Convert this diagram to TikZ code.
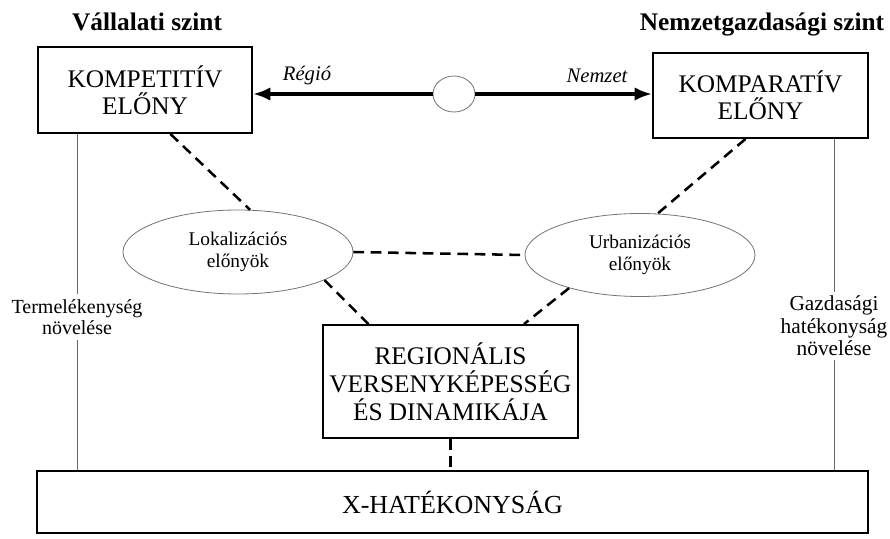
\documentclass[tikz,border=0pt]{standalone}
\usepackage{fontspec}
\setmainfont{Liberation Serif}
\usetikzlibrary{shapes.geometric,arrows.meta}
\begin{document}
\begin{tikzpicture}[x=0.75pt,y=-0.75pt,
  boxnode/.style={draw=black,line width=1.4pt,rectangle,align=center,inner sep=0pt},
  ellnode/.style={draw=black!55,line width=0.6pt,ellipse,inner sep=0pt,align=center,font=\fontsize{14.5}{16.5}\selectfont},
  dashlink/.style={line width=1.9pt,dash pattern=on 8pt off 5pt},
  thinlink/.style={draw=black!60,line width=0.5pt},
  bigarrow/.style={line width=2.6pt,-{Latex[length=13pt,width=10pt]}},
  titlenode/.style={font=\fontsize{19}{22}\selectfont\bfseries,inner sep=0pt},
  arrowlabel/.style={font=\fontsize{15.5}{17}\selectfont\itshape,inner sep=0pt},
  sidelabel/.style={align=center,inner xsep=2pt}]
\useasboundingbox (0,0) rectangle (890,539);

% titles
\node[titlenode] (t1) at (147,22) {Vállalati szint};
\node[titlenode] (t2) at (762,24) {Nemzetgazdasági szint};

% top boxes
\node[boxnode,minimum width=160.5pt,minimum height=64.5pt,font=\fontsize{19}{20.5}\selectfont] (boxL) at (145,90) {KOMPETITÍV\\ELŐNY};
\node[boxnode,minimum width=161.25pt,minimum height=63.75pt,font=\fontsize{19}{20.5}\selectfont] (boxR) at (760.5,95.5) {KOMPARATÍV\\ELŐNY};

% small circle
\node[ellnode,minimum width=31.5pt,minimum height=27pt] (circ) at (454,94) {};

% arrows
\draw[bigarrow] (circ.west) -- (circ.west -| boxL.east);
\draw[bigarrow] (circ.east) -- (circ.east -| boxR.west);
\node[arrowlabel] (lregio) at (307,76) {Régió};
\node[arrowlabel] (lnemzet) at (597,76) {Nemzet};

% ellipses
\node[ellnode,minimum width=172.5pt,minimum height=63pt] (eL) at (238,252) {Lokalizációs\\előnyök};
\node[ellnode,minimum width=172.5pt,minimum height=62.25pt] (eR) at (640,255) {Urbanizációs\\előnyök};

% central box
\node[boxnode,minimum width=191.25pt,minimum height=84.75pt,font=\fontsize{19}{21}\selectfont] (cbox) at (450.5,381.5) {REGIONÁLIS\\VERSENYKÉPESSÉG\\ÉS DINAMIKÁJA};

% bottom box
\node[boxnode,minimum width=623.25pt,minimum height=46.5pt,font=\fontsize{19.5}{20}\selectfont] (xbox) at (452.5,502) {X-HATÉKONYSÁG};

% side labels
\node[sidelabel,inner ysep=4pt,font=\fontsize{15}{16}\selectfont] (labL) at (77,317) {Termelékenység\\növelése};
\node[sidelabel,inner ysep=3pt,font=\fontsize{16}{17}\selectfont] (labR) at (834,326) {Gazdasági\\hatékonyság\\növelése};

% dashed connectors
\draw[dashlink] (boxL.-60) -- (eL.74);
\draw[dashlink] (boxR.-109) -- (eR.67);
\draw[dashlink] (eL.east) -- (eR.west);
\draw[dashlink] (eL.-18) -- (cbox.145);
\draw[dashlink] (eR.205) -- (cbox.38);
\draw[dashlink] (cbox.south) -- (cbox.south |- xbox.north);

% thin vertical lines
\draw[thinlink] (labL.north |- boxL.south) -- (labL.north);
\draw[thinlink] (labL.south) -- (labL.south |- xbox.north);
\draw[thinlink] (labR.north |- boxR.south) -- (labR.north);
\draw[thinlink] (labR.south) -- (labR.south |- xbox.north);
\end{tikzpicture}
\end{document}
